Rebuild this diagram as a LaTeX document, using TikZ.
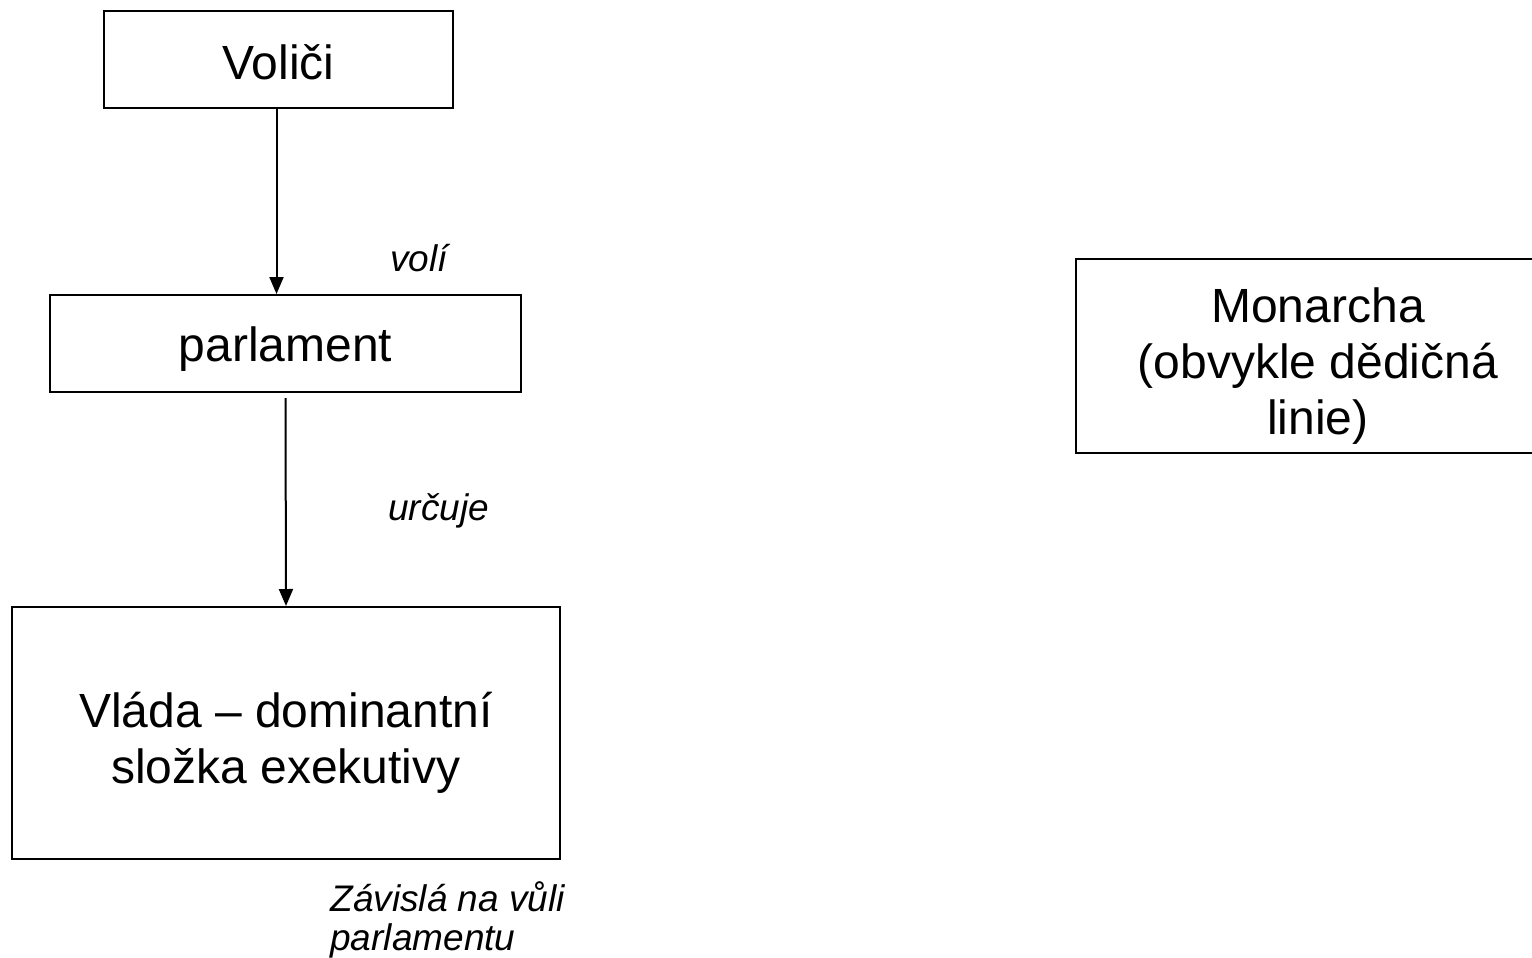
\documentclass[tikz,border=0pt]{standalone}
\usepackage{fontspec}
\setmainfont{Liberation Sans}
\usetikzlibrary{arrows.meta}
\begin{document}
\begin{tikzpicture}[x=0.5pt,y=-0.5pt,
  box/.style={draw=black,line width=1pt,inner sep=0pt},
  boxtext/.style={inner sep=0pt,align=center,font=\fontsize{24}{28}\selectfont},
  lbl/.style={inner sep=0pt,align=left,font=\fontsize{18.5}{19.5}\selectfont\itshape},
  conn/.style={draw=black,line width=1pt,-{Triangle[width=7pt,length=8.5pt]}}]
\useasboundingbox (0,0) rectangle (1532,958);
\node[box,minimum width=174.5pt,minimum height=48.5pt] (voli) at (278.5,59.5) {};
\node[box,minimum width=235.5pt,minimum height=48.5pt] (parl) at (285.5,343.5) {};
\node[box,minimum width=274pt,minimum height=126pt] (vlada) at (286,733) {};
\node[box,minimum width=242pt,minimum height=97pt] (mon) at (1318,356) {};
\node[boxtext,yshift=-1.5pt] (voli-t) at (voli.center) {Voliči};
\node[boxtext,yshift=-3pt] (parl-t) at (parl.center) {parlament};
\node[boxtext,yshift=-5pt] (vlada-t) at (vlada.center) {Vláda – dominantní\\složka exekutivy};
\node[boxtext,yshift=-5pt] (mon-t) at (mon.center) {Monarcha\\(obvykle dědičná\\linie)};
\node[lbl,anchor=west] (voli-l) at (390,258) {volí};
\node[lbl,anchor=west] (urc-l) at (388,511) {určuje};
\node[lbl,anchor=north west] (zav-l) at (330,881) {Závislá na vůli\\parlamentu};
\draw[conn] ([xshift=-1pt]voli.south) -- ([xshift=-1pt]voli.south |- parl.north);
\draw[conn] ([yshift=-2.5pt]parl.south) -- (vlada.north);
\end{tikzpicture}
\end{document}
